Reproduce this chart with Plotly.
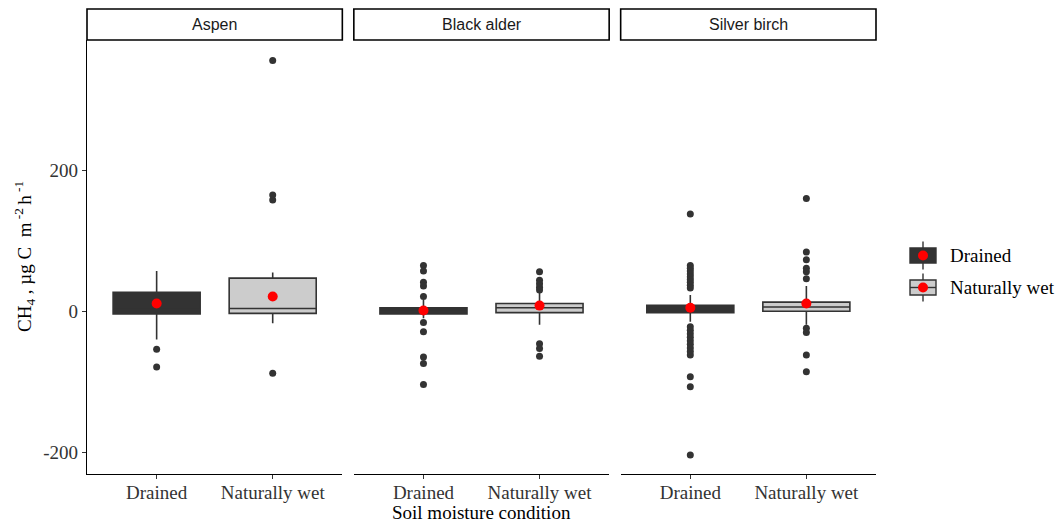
import plotly.graph_objects as go

panels = ["Aspen", "Black alder", "Silver birch"]
conditions = ["Drained", "Naturally wet"]

# Box statistics per panel: [Drained, Naturally wet]
q1 = {"Aspen": [-4, -3], "Black alder": [-4, -2], "Silver birch": [-2, 0]}
median = {"Aspen": [3, 4], "Black alder": [0, 5], "Silver birch": [2, 6]}
q3 = {"Aspen": [27, 47], "Black alder": [5, 11], "Silver birch": [8.5, 13]}
lowerfence = {"Aspen": [-40, -17], "Black alder": [-10, -19], "Silver birch": [-15, -19]}
upperfence = {"Aspen": [57, 55], "Black alder": [16, 26], "Silver birch": [23, 36]}
means = {"Aspen": [11, 21], "Black alder": [1, 8], "Silver birch": [5, 11]}
outliers = {
    "Aspen": [[-54, -79], [-88, 158, 165, 356]],
    "Black alder": [[65, 57, 41, 36, 21, -16, -29, -65, -74, -104],
                    [56, 44, 39, 34, 30, -46, -53, -64]],
    "Silver birch": [[138, 65, 61, 57, 53, 49, 45, 41, 37, 33,
                      -22, -27, -32, -37, -42, -47, -52, -57, -62, -93, -107, -204],
                     [160, 84, 73, 61, 56, 46, -24, -30, -62, -86]],
}
y_ticks = [-200, 0, 200]

fills = ["#333333", "#cccccc"]
line_col = "#333333"

# layout geometry (pixels, page coordinates; body margin removed via post_script)
W, H = 1055, 522
L, R, T, B = 87, 876, 40, 474
pw = R - L
ph = B - T
gap = 11.5
panel_w = (pw - 2 * gap) / 3
domains = []
for i in range(3):
    x0 = i * (panel_w + gap)
    domains.append([max(0.0, x0 / pw), min(1.0, (x0 + panel_w) / pw)])

def px(x):
    return (x - L) / pw

def py(y):
    return (B - y) / ph

fig = go.Figure()
serif = "Liberation Serif, Times New Roman, serif"
sans = "Liberation Sans, Arial, sans-serif"
FS = 19

for i, p in enumerate(panels):
    xa = "x" if i == 0 else f"x{i+1}"
    ya = "y" if i == 0 else f"y{i+1}"
    for j, c in enumerate(conditions):
        fig.add_trace(go.Box(
            x=[c], q1=[q1[p][j]], median=[median[p][j]], q3=[q3[p][j]],
            lowerfence=[lowerfence[p][j]], upperfence=[upperfence[p][j]],
            width=0.75, whiskerwidth=0, boxpoints=False,
            fillcolor=fills[j], line=dict(color=line_col, width=1.6),
            xaxis=xa, yaxis=ya, showlegend=False, hoverinfo="skip"))
        fig.add_trace(go.Scatter(
            x=[c] * len(outliers[p][j]), y=outliers[p][j], mode="markers",
            marker=dict(color="#333333", size=7), xaxis=xa, yaxis=ya,
            showlegend=False, hoverinfo="skip"))
        fig.add_trace(go.Scatter(
            x=[c], y=[means[p][j]], mode="markers",
            marker=dict(color="#ff0000", size=10), xaxis=xa, yaxis=ya,
            showlegend=False, hoverinfo="skip"))

layout = dict(
    width=W, height=H, plot_bgcolor="white", paper_bgcolor="white",
    margin=dict(l=L, r=W - R, t=T, b=H - B),
    showlegend=False,
)
for i in range(3):
    xk = "xaxis" if i == 0 else f"xaxis{i+1}"
    yk = "yaxis" if i == 0 else f"yaxis{i+1}"
    layout[xk] = dict(
        domain=domains[i], anchor="y" if i == 0 else f"y{i+1}",
        type="category", categoryorder="array", categoryarray=conditions,
        range=[-0.6, 1.6], showgrid=False, zeroline=False,
        showline=True, linecolor="black", linewidth=1.3,
        ticks="outside", ticklen=4, tickcolor="#333333", tickwidth=1.2,
        ticklabelstandoff=-3,
        tickfont=dict(family=serif, size=FS, color="#333333"),
    )
    yd = dict(
        domain=[0, 1], range=[-231, 385], showgrid=False, zeroline=False,
        anchor="x" if i == 0 else f"x{i+1}",
        tickvals=y_ticks, ticktext=[str(v) for v in y_ticks],
    )
    if i == 0:
        yd.update(showline=True, linecolor="black", linewidth=1.3,
                  ticks="outside", ticklen=4, tickcolor="#333333", tickwidth=1.2,
                  tickfont=dict(family=serif, size=FS, color="#333333"))
    else:
        yd.update(matches="y", showticklabels=False, showline=False, ticks="")
    layout[yk] = yd

fig.update_layout(**layout)

shapes = []
annotations = []
# facet strips
for i, p in enumerate(panels):
    shapes.append(dict(type="rect", xref="paper", yref="paper",
                       x0=domains[i][0], x1=domains[i][1], y0=1.0, y1=py(9),
                       line=dict(color="black", width=1.6), fillcolor="white", layer="above"))
    annotations.append(dict(text=p, xref="paper", yref="paper",
                            x=(domains[i][0] + domains[i][1]) / 2, y=py(24.5),
                            showarrow=False, xanchor="center", yanchor="middle",
                            font=dict(family=sans, size=16, color="#1a1a1a")))

# axis titles
annotations.append(dict(text="Soil moisture condition", xref="paper", yref="paper",
                        x=0.5, y=py(512), showarrow=False, xanchor="center", yanchor="middle",
                        font=dict(family=serif, size=FS, color="black")))
annotations.append(dict(text="CH<sub>4</sub> , µg C  m<sup> -2 </sup>h<sup> -1</sup>",
                        xref="paper", yref="paper", x=px(24), y=py(257), textangle=-90,
                        showarrow=False, xanchor="center", yanchor="middle",
                        font=dict(family=serif, size=FS, color="black")))

# manual legend
leg_items = [("Drained", fills[0], 255.5), ("Naturally wet", fills[1], 287.5)]
for label, fc, cy in leg_items:
    shapes.append(dict(type="line", xref="paper", yref="paper",
                       x0=px(923), x1=px(923), y0=py(cy - 14), y1=py(cy + 14),
                       line=dict(color=line_col, width=1.4)))
    shapes.append(dict(type="rect", xref="paper", yref="paper",
                       x0=px(910), x1=px(936), y0=py(cy - 7.5), y1=py(cy + 7.5),
                       line=dict(color=line_col, width=1.4), fillcolor=fc))
    if fc != fills[0]:
        shapes.append(dict(type="line", xref="paper", yref="paper",
                           x0=px(910), x1=px(936), y0=py(cy), y1=py(cy),
                           line=dict(color=line_col, width=1.4)))
    shapes.append(dict(type="circle", xref="paper", yref="paper",
                       x0=px(918), x1=px(928), y0=py(cy - 5), y1=py(cy + 5),
                       line=dict(color="#ff0000", width=0), fillcolor="#ff0000"))
    annotations.append(dict(text=label, xref="paper", yref="paper",
                            x=px(948), y=py(cy), showarrow=False,
                            xanchor="left", yanchor="middle",
                            font=dict(family=serif, size=FS, color="black")))

fig.update_layout(shapes=shapes, annotations=annotations)
fig.write_html("out.html", config={"displayModeBar": False},
               post_script="document.body.style.margin='0';document.body.style.overflow='hidden';")
